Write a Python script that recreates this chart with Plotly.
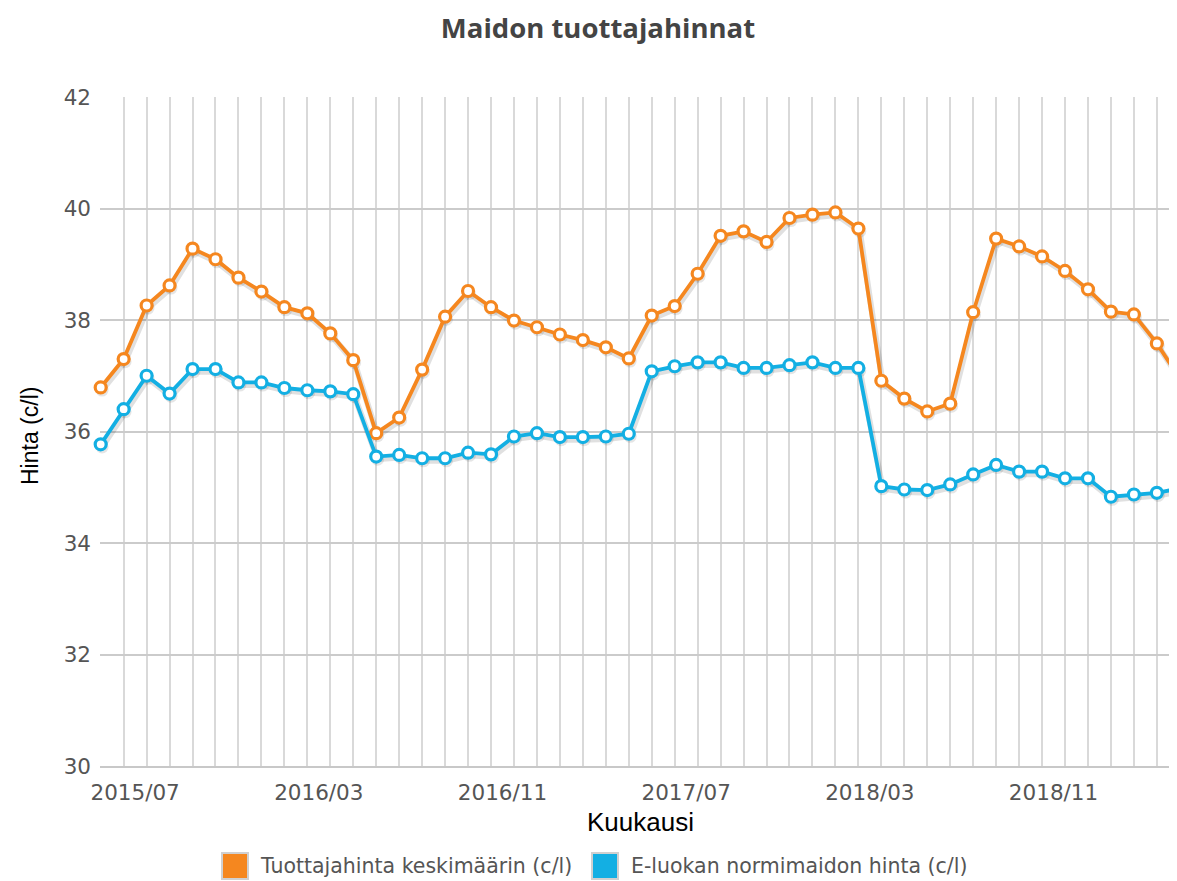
import pandas as pd
import plotly.graph_objects as go

# ---- data -------------------------------------------------------------
months = [p.strftime("%Y/%m") for p in pd.period_range("2015-06", "2019-05", freq="M")]

producer_avg = [36.79, 37.30, 38.26, 38.62, 39.28, 39.09, 38.76, 38.51, 38.23, 38.12,
                37.76, 37.28, 35.97, 36.25, 37.11, 38.06, 38.52, 38.23, 37.99, 37.87,
                37.74, 37.64, 37.51, 37.31, 38.08, 38.25, 38.83, 39.51, 39.59, 39.40,
                39.83, 39.89, 39.93, 39.64, 36.91, 36.59, 36.36, 36.50, 38.14, 39.46,
                39.32, 39.14, 38.88, 38.55, 38.15, 38.10, 37.58, 36.95]

e_class_norm = [35.77, 36.40, 37.00, 36.68, 37.12, 37.12, 36.88, 36.88, 36.78, 36.74,
                36.72, 36.67, 35.55, 35.58, 35.52, 35.52, 35.62, 35.59, 35.91, 35.97,
                35.90, 35.90, 35.91, 35.96, 37.08, 37.17, 37.24, 37.24, 37.14, 37.14,
                37.19, 37.24, 37.14, 37.14, 35.02, 34.96, 34.95, 35.05, 35.23, 35.40,
                35.28, 35.28, 35.16, 35.16, 34.83, 34.87, 34.90, 34.98]

tick_labels = ["2015/07", "2016/03", "2016/11", "2017/07", "2018/03", "2018/11"]

series_names = ["Tuottajahinta keskimäärin (c/l)", "E-luokan normimaidon hinta (c/l)"]
series_colors = ["#F5871F", "#13AFE3"]

title_text = "Maidon tuottajahinnat"
x_title = "Kuukausi"
y_title = "Hinta (c/l)"

# ---- geometry (page has an 8px body margin) ---------------------------
OFF = 8
W, H = 1177 - OFF, 881 - OFF
ML, MR, MT = 100 - OFF, 0, 97 - OFF
MB = H - (766 - OFF)
plot_w = W - ML - MR
plot_h = H - MT - MB
step_px = 22.96

x_idx = list(range(len(months)))
x_start = -0.03
x_end = x_start + plot_w / step_px
y_min, y_max = 30, 42
px_per_unit = plot_h / (y_max - y_min)

fig = go.Figure()

# shadows (jqPlot-like)
sdx = 1.4 / step_px
sdy = 2.6 / px_per_unit
for vals in (producer_avg, e_class_norm):
    fig.add_trace(go.Scatter(
        x=[i + sdx for i in x_idx], y=[v - sdy for v in vals],
        mode="lines+markers",
        line=dict(color="rgba(0,0,0,0.12)", width=6),
        marker=dict(size=13, color="rgba(0,0,0,0.10)"),
        showlegend=False, hoverinfo="skip", cliponaxis=False))

for vals, col, name in zip((producer_avg, e_class_norm), series_colors, series_names):
    fig.add_trace(go.Scatter(
        x=x_idx, y=vals, name=name,
        mode="lines+markers",
        line=dict(color=col, width=3.8),
        marker=dict(size=11, color="white", line=dict(color=col, width=3.2)),
        showlegend=False, cliponaxis=False))

tick_pos = [months.index(t) + 0.5 for t in tick_labels]

fig.update_xaxes(
    range=[x_start, x_end],
    tickmode="array", tickvals=tick_pos, ticktext=tick_labels,
    showgrid=False, zeroline=False, ticks="",
    tickfont=dict(family="DejaVu Sans", size=21.5, color="#555555"),
    ticklabelstandoff=6,
    showline=True, linecolor="#c8c8c8", linewidth=2,
    minor=dict(tickmode="array", tickvals=x_idx, showgrid=True,
               gridcolor="#d9d9d9", gridwidth=1.6, ticks=""),
)
fig.update_yaxes(
    range=[y_min, y_max], tickmode="linear", tick0=30, dtick=2,
    showgrid=True, gridcolor="#cbcbcb", gridwidth=1.5,
    zeroline=False, ticks="", showline=False,
    tickfont=dict(family="DejaVu Sans", size=21.5, color="#555555"),
    ticklabelstandoff=8,
)

def px_to_paper_x(px):  # px = page pixel in the reference
    return (px - OFF - ML) / plot_w

def py_to_paper_y(py):
    return (H - MB - (py - OFF)) / plot_h

annotations = [
    dict(text=x_title, x=px_to_paper_x(640), y=py_to_paper_y(822),
         xref="paper", yref="paper", showarrow=False, xanchor="center", yanchor="middle",
         font=dict(family="Liberation Sans", size=26, color="#000000")),
    dict(text=y_title, x=px_to_paper_x(30), y=py_to_paper_y(436), textangle=-90,
         xref="paper", yref="paper", showarrow=False, xanchor="center", yanchor="middle",
         font=dict(family="Liberation Sans", size=23, color="#000000")),
]

# manual legend (square swatches like the reference)
legend_items = [(222, 258), (592, 629)]
shapes = []
for (bx, tx), col, name in zip(legend_items, series_colors, series_names):
    shapes.append(dict(type="rect", xref="paper", yref="paper",
                       x0=px_to_paper_x(bx), x1=px_to_paper_x(bx + 26),
                       y0=py_to_paper_y(879), y1=py_to_paper_y(853),
                       fillcolor=col, line=dict(color="#d0d0d0", width=2)))
    annotations.append(dict(text=name, x=px_to_paper_x(tx), y=py_to_paper_y(866.5),
                            xref="paper", yref="paper", showarrow=False,
                            xanchor="left", yanchor="middle",
                            font=dict(family="DejaVu Sans", size=20.5, color="#555555")))

fig.update_layout(
    width=W, height=H,
    margin=dict(l=ML, r=MR, t=MT, b=MB),
    paper_bgcolor="white", plot_bgcolor="white",
    title=dict(text="<b>" + title_text + "</b>", x=(598 - OFF) / W, xanchor="center",
               y=1 - (28.5 - OFF) / H, yanchor="middle", xref="container", yref="container",
               font=dict(family="Open Sans", size=27.5, color="#444444")),
    annotations=annotations, shapes=shapes,
    showlegend=False, hovermode=False,
)

fig.write_html("out.html", config={"displayModeBar": False})
